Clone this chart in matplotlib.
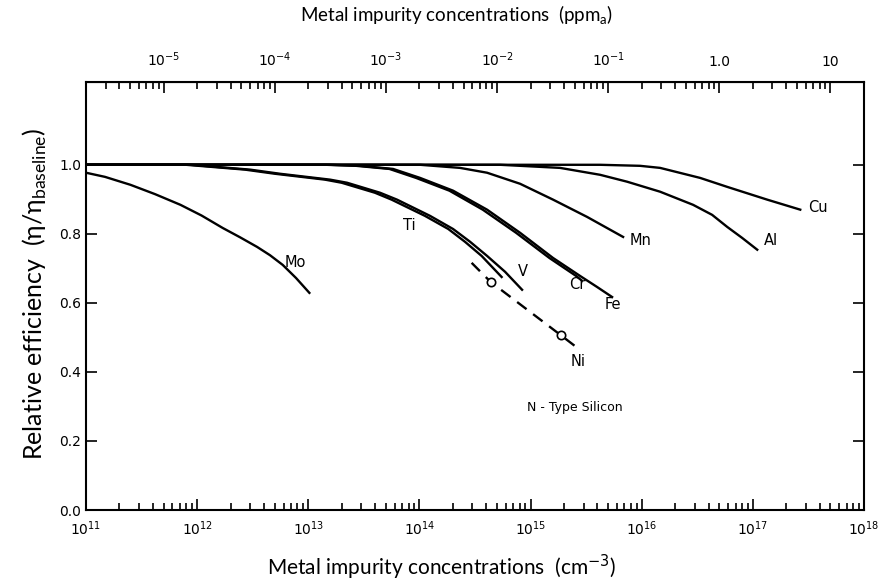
import numpy as np
import matplotlib
matplotlib.use('Agg')
import matplotlib.pyplot as plt

plt.rcParams['mathtext.fontset'] = 'custom'
plt.rcParams['mathtext.rm'] = 'DejaVu Sans'

# log10 of impurity concentration (cm^-3) and relative efficiency for each metal
mo_x = [11.0, 11.171, 11.40, 11.621, 11.85, 12.04, 12.23, 12.386, 12.54, 12.656, 12.77, 12.89, 13.01]
mo_y = [0.977, 0.965, 0.942, 0.915, 0.884, 0.853, 0.817, 0.790, 0.762, 0.738, 0.710, 0.672, 0.629]

v_x = [11.0, 11.94, 12.476, 12.746, 13.196, 13.349, 13.646, 13.799, 14.096, 14.303, 14.456, 14.609, 14.771, 14.924]
v_y = [1.0, 1.0, 0.986, 0.974, 0.957, 0.948, 0.919, 0.899, 0.852, 0.814, 0.777, 0.736, 0.690, 0.638]

ti_x = [11.0, 11.90, 12.43, 12.70, 13.15, 13.30, 13.60, 13.75, 14.05, 14.26, 14.41, 14.56, 14.74]
ti_y = [1.0, 1.0, 0.986, 0.974, 0.957, 0.948, 0.919, 0.899, 0.852, 0.814, 0.777, 0.736, 0.675]

fe_x = [11.0, 13.196, 13.466, 13.763, 14.006, 14.303, 14.609, 14.906, 15.203, 15.446, 15.599, 15.734]
fe_y = [1.0, 1.0, 0.997, 0.988, 0.962, 0.925, 0.870, 0.803, 0.730, 0.678, 0.646, 0.617]

cr_x = [11.0, 13.16, 13.43, 13.73, 13.97, 14.27, 14.57, 14.87, 15.17, 15.41, 15.46]
cr_y = [1.0, 1.0, 0.997, 0.988, 0.962, 0.925, 0.870, 0.803, 0.730, 0.678, 0.665]

mn_x = [11.0, 14.006, 14.366, 14.609, 14.906, 15.203, 15.509, 15.833]
mn_y = [1.0, 1.0, 0.991, 0.977, 0.945, 0.899, 0.849, 0.791]

al_x = [11.0, 14.726, 15.266, 15.626, 15.869, 16.166, 16.463, 16.634, 16.770, 16.905, 17.040]
al_y = [1.0, 1.0, 0.991, 0.971, 0.951, 0.922, 0.884, 0.855, 0.820, 0.788, 0.754]

cu_x = [11.0, 15.626, 15.986, 16.166, 16.526, 16.770, 17.130, 17.427]
cu_y = [1.0, 1.0, 0.997, 0.991, 0.962, 0.936, 0.899, 0.870]

ni_x = [14.47, 14.64, 15.27, 15.42]
ni_y = [0.716, 0.661, 0.507, 0.470]

# curve labels: text, log10 N, efficiency
lab_txt = ['Mo', 'Ti', 'V', 'Cr', 'Fe', 'Mn', 'Al', 'Cu', 'Ni']
lab_x = [12.88, 13.91, 14.93, 15.42, 15.74, 15.99, 17.16, 17.59, 15.43]
lab_y = [0.716, 0.823, 0.69, 0.652, 0.594, 0.78, 0.78, 0.875, 0.429]

ppma_ticks = [1e-5, 1e-4, 1e-3, 1e-2, 1e-1, 1.0, 10.0]
ppma_labels = ['$10^{-5}$', '$10^{-4}$', '$10^{-3}$', '$10^{-2}$', '$10^{-1}$', '1.0', '10']
n_si = 5e16  # cm^-3 per ppma

fig = plt.figure(figsize=(8.83, 5.84), dpi=100)
ax = fig.add_axes([0.0974, 0.1267, 0.881, 0.733])

lw = 1.7
for xs, ys in [(mo_x, mo_y), (ti_x, ti_y), (v_x, v_y), (cr_x, cr_y), (fe_x, fe_y),
               (mn_x, mn_y), (al_x, al_y), (cu_x, cu_y)]:
    ax.plot(10 ** np.array(xs), ys, color='black', lw=lw, solid_joinstyle='round')

ax.plot(10 ** np.array(ni_x), ni_y, color='black', lw=lw, ls=(0, (5, 3.5)))
ax.plot(10 ** np.array(ni_x[1:3]), ni_y[1:3], ls='none', marker='o', ms=6,
        mfc='white', mec='black', mew=1.2)

for t, x, y in zip(lab_txt, lab_x, lab_y):
    ax.text(10 ** x, y, t, ha='center', va='center', fontsize=10.5)
ax.text(10 ** 15.4, 0.296, 'N - Type Silicon', ha='center', va='center', fontsize=9)

ax.set_xscale('log')
ax.set_xlim(1e11, 1e18)
ax.set_ylim(0, 1.24)
ax.set_yticks([0.0, 0.2, 0.4, 0.6, 0.8, 1.0])
ax.set_yticklabels(['0.0', '0.2', '0.4', '0.6', '0.8', '1.0'])
ax.set_xticks([10.0 ** k for k in range(11, 19)])
ax.set_xticklabels(['$10^{%d}$' % k for k in range(11, 19)])
ax.tick_params(which='both', direction='in', right=True, labelsize=10, width=1.2)
ax.tick_params(axis='x', pad=7)
ax.tick_params(which='major', length=8)
ax.tick_params(which='minor', length=5)
for s in ax.spines.values():
    s.set_linewidth(1.5)

sec = ax.secondary_xaxis('top', functions=(lambda n: n / n_si, lambda p: p * n_si))
sec.set_xticks(ppma_ticks)
sec.set_xticklabels(ppma_labels)
sec.tick_params(which='both', direction='in', labelsize=10, width=1.2, pad=9)
sec.tick_params(which='major', length=8)
sec.tick_params(which='minor', length=5)

fam = ['Lato', 'DejaVu Sans']
fig.text(0.5, 0.028, 'Metal impurity concentrations  (cm$^{-3}$)', ha='center', va='center',
         family=fam, fontsize=15)
fig.text(0.517, 0.973, 'Metal impurity concentrations  (ppm$_\\mathregular{a}$)', ha='center', va='center',
         family=fam, fontsize=13.5)
fig.text(0.04, 0.497, 'Relative efficiency  (η/η$_\\mathregular{baseline}$)', ha='center', va='center',
         rotation=90, family=fam, fontsize=18)

fig.savefig('out.png', dpi=100)
